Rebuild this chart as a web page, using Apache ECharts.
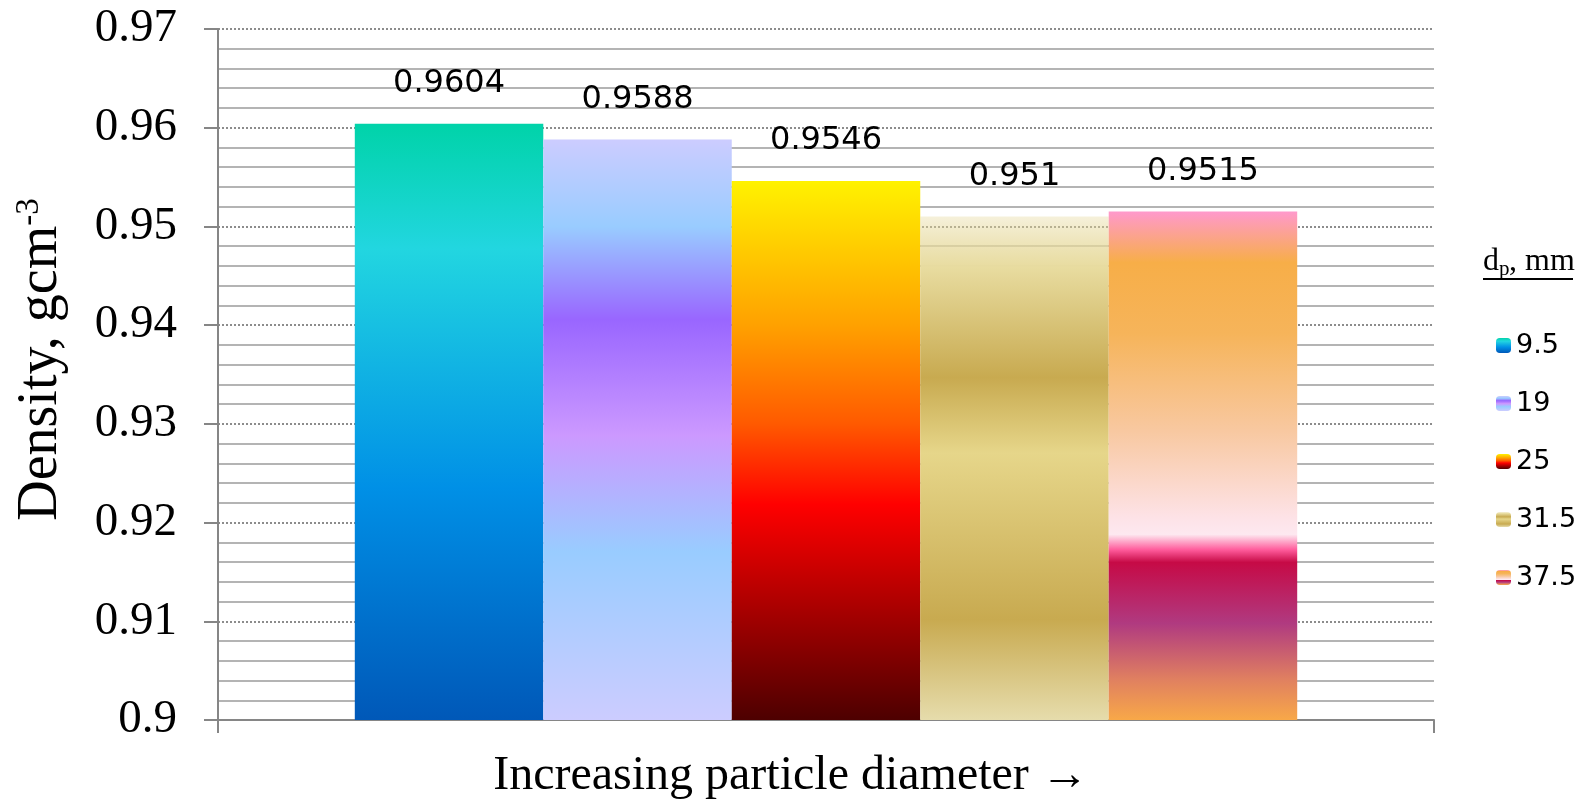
<!DOCTYPE html>
<html>
<head>
<meta charset="utf-8">
<script src="https://cdn.jsdelivr.net/npm/echarts@6/dist/echarts.min.js"></script>
<style>
  html, body { margin: 0; padding: 0; background: #fff; }
  #main { width: 1585px; height: 802px; }
</style>
</head>
<body>
<div id="main"></div>
<script>
// data
const categories = [''];
const sizes = ['9.5', '19', '25', '31.5', '37.5'];
const densities = [0.9604, 0.9588, 0.9546, 0.951, 0.9515];
const yMin = 0.9;
const yMax = 0.97;
const yStep = 0.01;

// gradient stops for each bar (top -> bottom)
const fills = [
  [[0, '#00d3a9'], [0.21, '#22d6e0'], [0.61, '#0090e6'], [1, '#0058b8']],
  [[0, '#ccccff'], [0.15, '#99ccff'], [0.31, '#9966ff'], [0.51, '#cc99ff'], [0.71, '#99ccff'], [1, '#ccccff']],
  [[0, '#fff200'], [0.27, '#ffa000'], [0.45, '#ff5a00'], [0.6, '#ff0000'], [1, '#4d0000']],
  [[0, 'rgba(228,214,150,0.35)'], [0.1, '#e8dca0'], [0.32, '#c8aa50'], [0.47, '#e6d68a'], [0.8, '#c8aa50'], [1, '#e6dcac']],
  [[0, '#ff99cc'], [0.1, '#f7ae48'], [0.24, '#f6b45a'], [0.43, '#f8c8a0'], [0.6, '#fde2e6'], [0.635, '#fde8f0'],
   [0.665, '#ff5c9c'], [0.69, '#c60a46'], [0.81, '#b03a80'], [0.92, '#e08060'], [1, '#f8a848']]
];

const serif = 'Liberation Serif';
const sans = 'DejaVu Sans';

const chart = echarts.init(document.getElementById('main'));

const series = sizes.map((name, i) => ({
  name: name,
  type: 'bar',
  barGap: '0%',
  barCategoryGap: '22.5%',
  data: [densities[i]],
  itemStyle: {
    color: new echarts.graphic.LinearGradient(0, 0, 0, 1,
      fills[i].map(s => ({ offset: s[0], color: s[1] })))
  },
  label: {
    show: true,
    position: 'top',
    distance: 24,
    color: '#000',
    fontFamily: sans,
    fontSize: 32
  }
}));

chart.setOption({
  animation: false,
  backgroundColor: '#fff',
  grid: { left: 218, right: 151, top: 29, bottom: 82, outerBoundsMode: 'none' },
  legend: {
    orient: 'vertical',
    left: 1496,
    top: 332,
    padding: 0,
    itemWidth: 15,
    itemHeight: 15,
    itemGap: 31,
    textStyle: { fontFamily: sans, fontSize: 27, color: '#000', lineHeight: 27 },
    data: sizes
  },
  graphic: [
    {
      type: 'text',
      x: 1483,
      y: 246,
      style: { text: 'd', font: '32px "Liberation Serif"', fill: '#000' }
    },
    {
      type: 'text',
      x: 1499,
      y: 259,
      style: { text: 'p', font: '21px "Liberation Serif"', fill: '#000' }
    },
    {
      type: 'text',
      x: 1509,
      y: 246,
      style: { text: ', mm', font: '32px "Liberation Serif"', fill: '#000' }
    },
    {
      type: 'line',
      shape: { x1: 1483, y1: 279, x2: 1573, y2: 279 },
      style: { stroke: '#000', lineWidth: 2 }
    }
  ],
  xAxis: {
    type: 'category',
    data: categories,
    name: 'Increasing particle diameter \u2192',
    nameLocation: 'middle',
    nameGap: 32,
    nameTextStyle: { fontFamily: serif, fontSize: 48, color: '#000', padding: [0, 70, 0, 0] },
    axisLine: { lineStyle: { color: '#868686', width: 2 } },
    axisTick: { show: true, length: 13, lineStyle: { color: '#868686', width: 2 } },
    axisLabel: { show: false }
  },
  yAxis: {
    type: 'value',
    min: yMin,
    max: yMax,
    interval: yStep,
    name: '{a|Density, gcm}{s|-3}',
    nameLocation: 'middle',
    nameRotate: 90,
    nameGap: 149,
    nameTextStyle: {
      padding: [0, 0, 0, 30],
      rich: {
        a: { fontFamily: serif, fontSize: 56, lineHeight: 56, verticalAlign: 'top', color: '#000' },
        s: { fontFamily: serif, fontSize: 33, lineHeight: 33, verticalAlign: 'top', color: '#000' }
      }
    },
    axisLine: { show: true, lineStyle: { color: '#868686', width: 2 } },
    axisTick: { show: true, length: 14, lineStyle: { color: '#868686', width: 2 } },
    axisLabel: {
      margin: 41,
      fontFamily: serif,
      fontSize: 47,
      color: '#000',
      formatter: v => (Math.abs(v - yMin) < 1e-9 ? '0.9' : v.toFixed(2))
    },
    splitLine: { show: true, lineStyle: { color: '#8c8c8c', width: 2, type: [2, 2] } },
    minorTick: { show: false, splitNumber: 5 },
    minorSplitLine: { show: true, lineStyle: { color: '#b4b4b4', width: 2 } }
  },
  series: series
});
</script>
</body>
</html>
